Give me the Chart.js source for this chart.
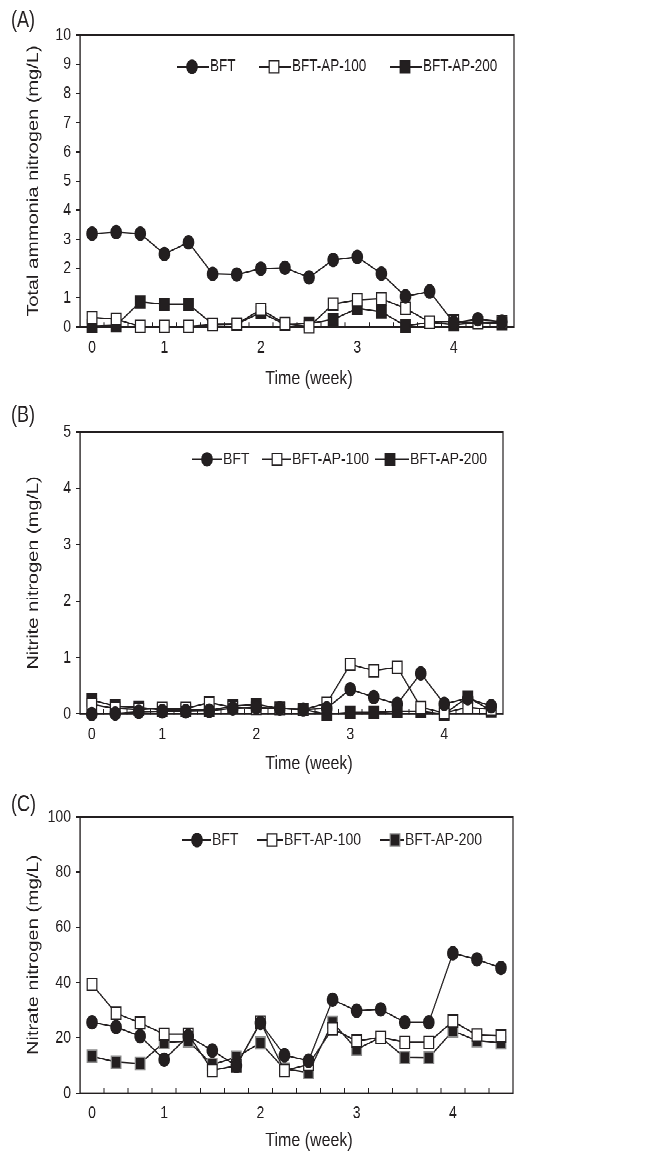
<!DOCTYPE html>
<html>
<head>
<meta charset="utf-8">
<title>Nitrogen</title>
<script src="https://cdn.jsdelivr.net/npm/chart.js@4.4.1/dist/chart.umd.min.js"></script>
<style>
  html, body { margin: 0; padding: 0; background: #fff; }
  #wrap { position: relative; width: 658px; height: 1159px; overflow: hidden; }
  /* the figure is drawn 1.25x taller than wide, so stretch the whole page */
  #page { position: absolute; left: 0; top: 0; width: 658px; height: 927.2px; transform: scaleY(1.25); transform-origin: 0 0; }
  .panel { position: absolute; left: 0; width: 658px; }
</style>
</head>
<body>
<div id="wrap">
<div id="page">
  <div class="panel" style="top:0;height:320px"><canvas id="chartA"></canvas></div>
  <div class="panel" style="top:320px;height:300px"><canvas id="chartB"></canvas></div>
  <div class="panel" style="top:620px;height:307px"><canvas id="chartC"></canvas></div>
</div>
</div>
<script>
// time axis: 18 samples, labelled in weeks
var weekLabels = ['0', '', '', '1', '', '', '', '2', '', '', '', '3', '', '', '', '4', '', ''];
var seriesNames = ['BFT', 'BFT-AP-100', 'BFT-AP-200'];

// (A) total ammonia nitrogen, mg/L
var ammoniaBFT   = [3.2, 3.25, 3.2, 2.5, 2.9, 1.82, 1.8, 2.0, 2.03, 1.7, 2.3, 2.4, 1.83, 1.05, 1.22, 0.15, 0.27, 0.18];
var ammoniaAP100 = [0.33, 0.27, 0.02, 0.02, 0.02, 0.08, 0.1, 0.6, 0.12, 0.01, 0.79, 0.93, 0.97, 0.64, 0.17, 0.2, 0.14, 0.18];
var ammoniaAP200 = [0.03, 0.06, 0.86, 0.78, 0.78, 0.1, 0.1, 0.5, 0.09, 0.12, 0.26, 0.64, 0.52, 0.04, 0.16, 0.08, 0.15, 0.12];

// (B) nitrite nitrogen, mg/L
var nitriteBFT   = [0.0, 0.01, 0.04, 0.05, 0.05, 0.06, 0.1, 0.12, 0.1, 0.08, 0.1, 0.44, 0.3, 0.18, 0.72, 0.18, 0.28, 0.14];
var nitriteAP100 = [0.17, 0.1, 0.08, 0.1, 0.1, 0.2, 0.12, 0.1, 0.1, 0.08, 0.19, 0.88, 0.77, 0.83, 0.12, 0.02, 0.12, 0.08];
var nitriteAP200 = [0.25, 0.14, 0.12, 0.07, 0.07, 0.07, 0.14, 0.17, 0.1, 0.08, 0.0, 0.03, 0.03, 0.05, 0.05, 0.0, 0.3, 0.06];

// (C) nitrate nitrogen, mg/L
var nitrateBFT   = [25.6, 23.9, 20.6, 12.1, 20.6, 15.4, 9.9, 25.4, 13.7, 11.7, 33.8, 29.8, 30.3, 25.6, 25.6, 50.6, 48.4, 45.3];
var nitrateAP100 = [39.3, 28.9, 25.4, 21.3, 21.3, 8.2, 9.9, 25.7, 8.2, 10.3, 23.3, 18.8, 20.2, 18.4, 18.4, 26.0, 21.0, 20.7];
var nitrateAP200 = [13.3, 11.2, 10.7, 18.4, 18.8, 10.3, 13.0, 18.2, 8.7, 7.5, 25.6, 15.8, 20.2, 12.9, 12.8, 22.5, 19.0, 18.2];

var ink = '#231f20';
Chart.defaults.font.family = "'Liberation Sans', Arial, sans-serif";
Chart.defaults.color = ink;

// frame round the plot, panel letter, legend and x title
var decorPlugin = {
    id: 'decor',
    beforeDatasetsDraw: function (chart) {
        var ctx = chart.ctx, a = chart.chartArea;
        ctx.save();
        ctx.strokeStyle = ink;
        ctx.lineWidth = 1.2;
        ctx.strokeRect(a.left, a.top, a.right - a.left, a.bottom - a.top);
        ctx.restore();
    },
    afterDraw: function (chart, args, o) {
        var ctx = chart.ctx;
        ctx.save();
        ctx.fillStyle = ink;
        ctx.textBaseline = 'middle';
        ctx.textAlign = 'left';
        ctx.font = "18px 'Liberation Sans', Arial, sans-serif";
        ctx.fillText(o.letter, 11, o.letterY);

        ctx.textAlign = 'center';
        ctx.font = "16px 'Liberation Sans', Arial, sans-serif";
        ctx.fillText('Time (week)', o.xTitleX, o.xTitleY);

        ctx.font = o.legendFont + "px 'Liberation Sans', Arial, sans-serif";
        ctx.textAlign = 'left';
        chart.data.datasets.forEach(function (ds, i) {
            var mx = o.legendMarks[i], tx = o.legendTexts[i], y = o.legendY;
            ctx.strokeStyle = ink;
            ctx.lineWidth = 1.2;
            ctx.beginPath();
            ctx.moveTo(mx - 15, y);
            ctx.lineTo(tx - 1, y);
            ctx.stroke();
            ctx.fillStyle = ds.pointBackgroundColor;
            ctx.strokeStyle = ds.pointBorderColor;
            ctx.lineWidth = ds.pointBorderWidth;
            ctx.beginPath();
            if (ds.pointStyle === 'circle') {
                ctx.arc(mx, y, ds.pointRadius, 0, Math.PI * 2);
            } else {
                var s = ds.pointRadius * Math.SQRT1_2;
                ctx.rect(mx - s, y - s, 2 * s, 2 * s);
            }
            ctx.fill();
            ctx.stroke();
            ctx.fillStyle = ink;
            ctx.fillText(seriesNames[i], tx, y);
        });
        ctx.restore();
    }
};

function makeDatasets(bft, ap100, ap200, squareEdge) {
    return [
        { label: seriesNames[0], data: bft, borderColor: ink, borderWidth: 1.2,
          pointStyle: 'circle', pointRadius: 5.3, pointBackgroundColor: ink, pointBorderColor: ink, pointBorderWidth: 1 },
        { label: seriesNames[1], data: ap100, borderColor: ink, borderWidth: 1.2,
          pointStyle: 'rect', pointRadius: 6.8, pointBackgroundColor: '#fff', pointBorderColor: ink, pointBorderWidth: 1.2 },
        { label: seriesNames[2], data: ap200, borderColor: ink, borderWidth: 1.2,
          pointStyle: 'rect', pointRadius: 6.8, pointBackgroundColor: ink, pointBorderColor: squareEdge, pointBorderWidth: 1.2 }
    ];
}

function buildChart(p, datasets) {
    return new Chart(document.getElementById(p.canvas), {
        type: 'line',
        data: { labels: weekLabels, datasets: datasets },
        options: {
            responsive: true,
            maintainAspectRatio: false,
            devicePixelRatio: 2,
            animation: false,
            clip: false,
            layout: { padding: { left: 0, top: p.top, right: 658 - p.right, bottom: 0 } },
            elements: { line: { tension: 0 } },
            plugins: {
                legend: { display: false },
                tooltip: { enabled: false },
                decor: p.decor
            },
            scales: {
                x: {
                    offset: true,
                    ticks: { autoSkip: false, maxRotation: 0, padding: 12, color: ink, font: { size: 14 } },
                    grid: { offset: true, drawOnChartArea: false, tickLength: -4, color: ink, lineWidth: 1 },
                    border: { color: ink, width: 1.2 },
                    afterFit: function (scale) { scale.height = p.xAxisH; }
                },
                y: {
                    min: 0,
                    max: p.yMax,
                    ticks: { stepSize: p.yStep, padding: 5, color: ink, font: { size: 14 } },
                    grid: { drawOnChartArea: false, tickLength: 4, color: ink, lineWidth: 1 },
                    border: { color: ink, width: 1.2 },
                    title: { display: true, text: p.yTitle, color: ink, font: { size: 16 }, padding: { top: 24, bottom: 0 } },
                    afterFit: function (scale) { scale.width = 80; }
                }
            }
        },
        plugins: [decorPlugin]
    });
}

buildChart({
    canvas: 'chartA', top: 28, right: 514, xAxisH: 58.4, yMax: 10, yStep: 1,
    yTitle: 'Total ammonia nitrogen (mg/L)',
    decor: { letter: '(A)', letterY: 16.5, xTitleX: 309, xTitleY: 303, legendY: 53.4,
             legendMarks: [192, 274, 405], legendTexts: [210, 292, 423], legendFont: 13.5 }
}, makeDatasets(ammoniaBFT, ammoniaAP100, ammoniaAP200, ink));

buildChart({
    canvas: 'chartB', top: 25.4, right: 503, xAxisH: 48.8, yMax: 5, yStep: 1,
    yTitle: 'Nitrite nitrogen (mg/L)',
    decor: { letter: '(B)', letterY: 12.4, xTitleX: 309, xTitleY: 291, legendY: 47.4,
             legendMarks: [207, 277, 390], legendTexts: [223, 292, 410], legendFont: 14 }
}, makeDatasets(nitriteBFT, nitriteAP100, nitriteAP200, ink));

buildChart({
    canvas: 'chartC', top: 33.4, right: 513, xAxisH: 52.6, yMax: 100, yStep: 20,
    yTitle: 'Nitrate nitrogen (mg/L)',
    decor: { letter: '(C)', letterY: 24, xTitleX: 309, xTitleY: 292.4, legendY: 52,
             legendMarks: [197, 272, 395], legendTexts: [212, 284, 405], legendFont: 14 }
}, makeDatasets(nitrateBFT, nitrateAP100, nitrateAP200, '#8c8c8c'));
</script>
</body>
</html>
